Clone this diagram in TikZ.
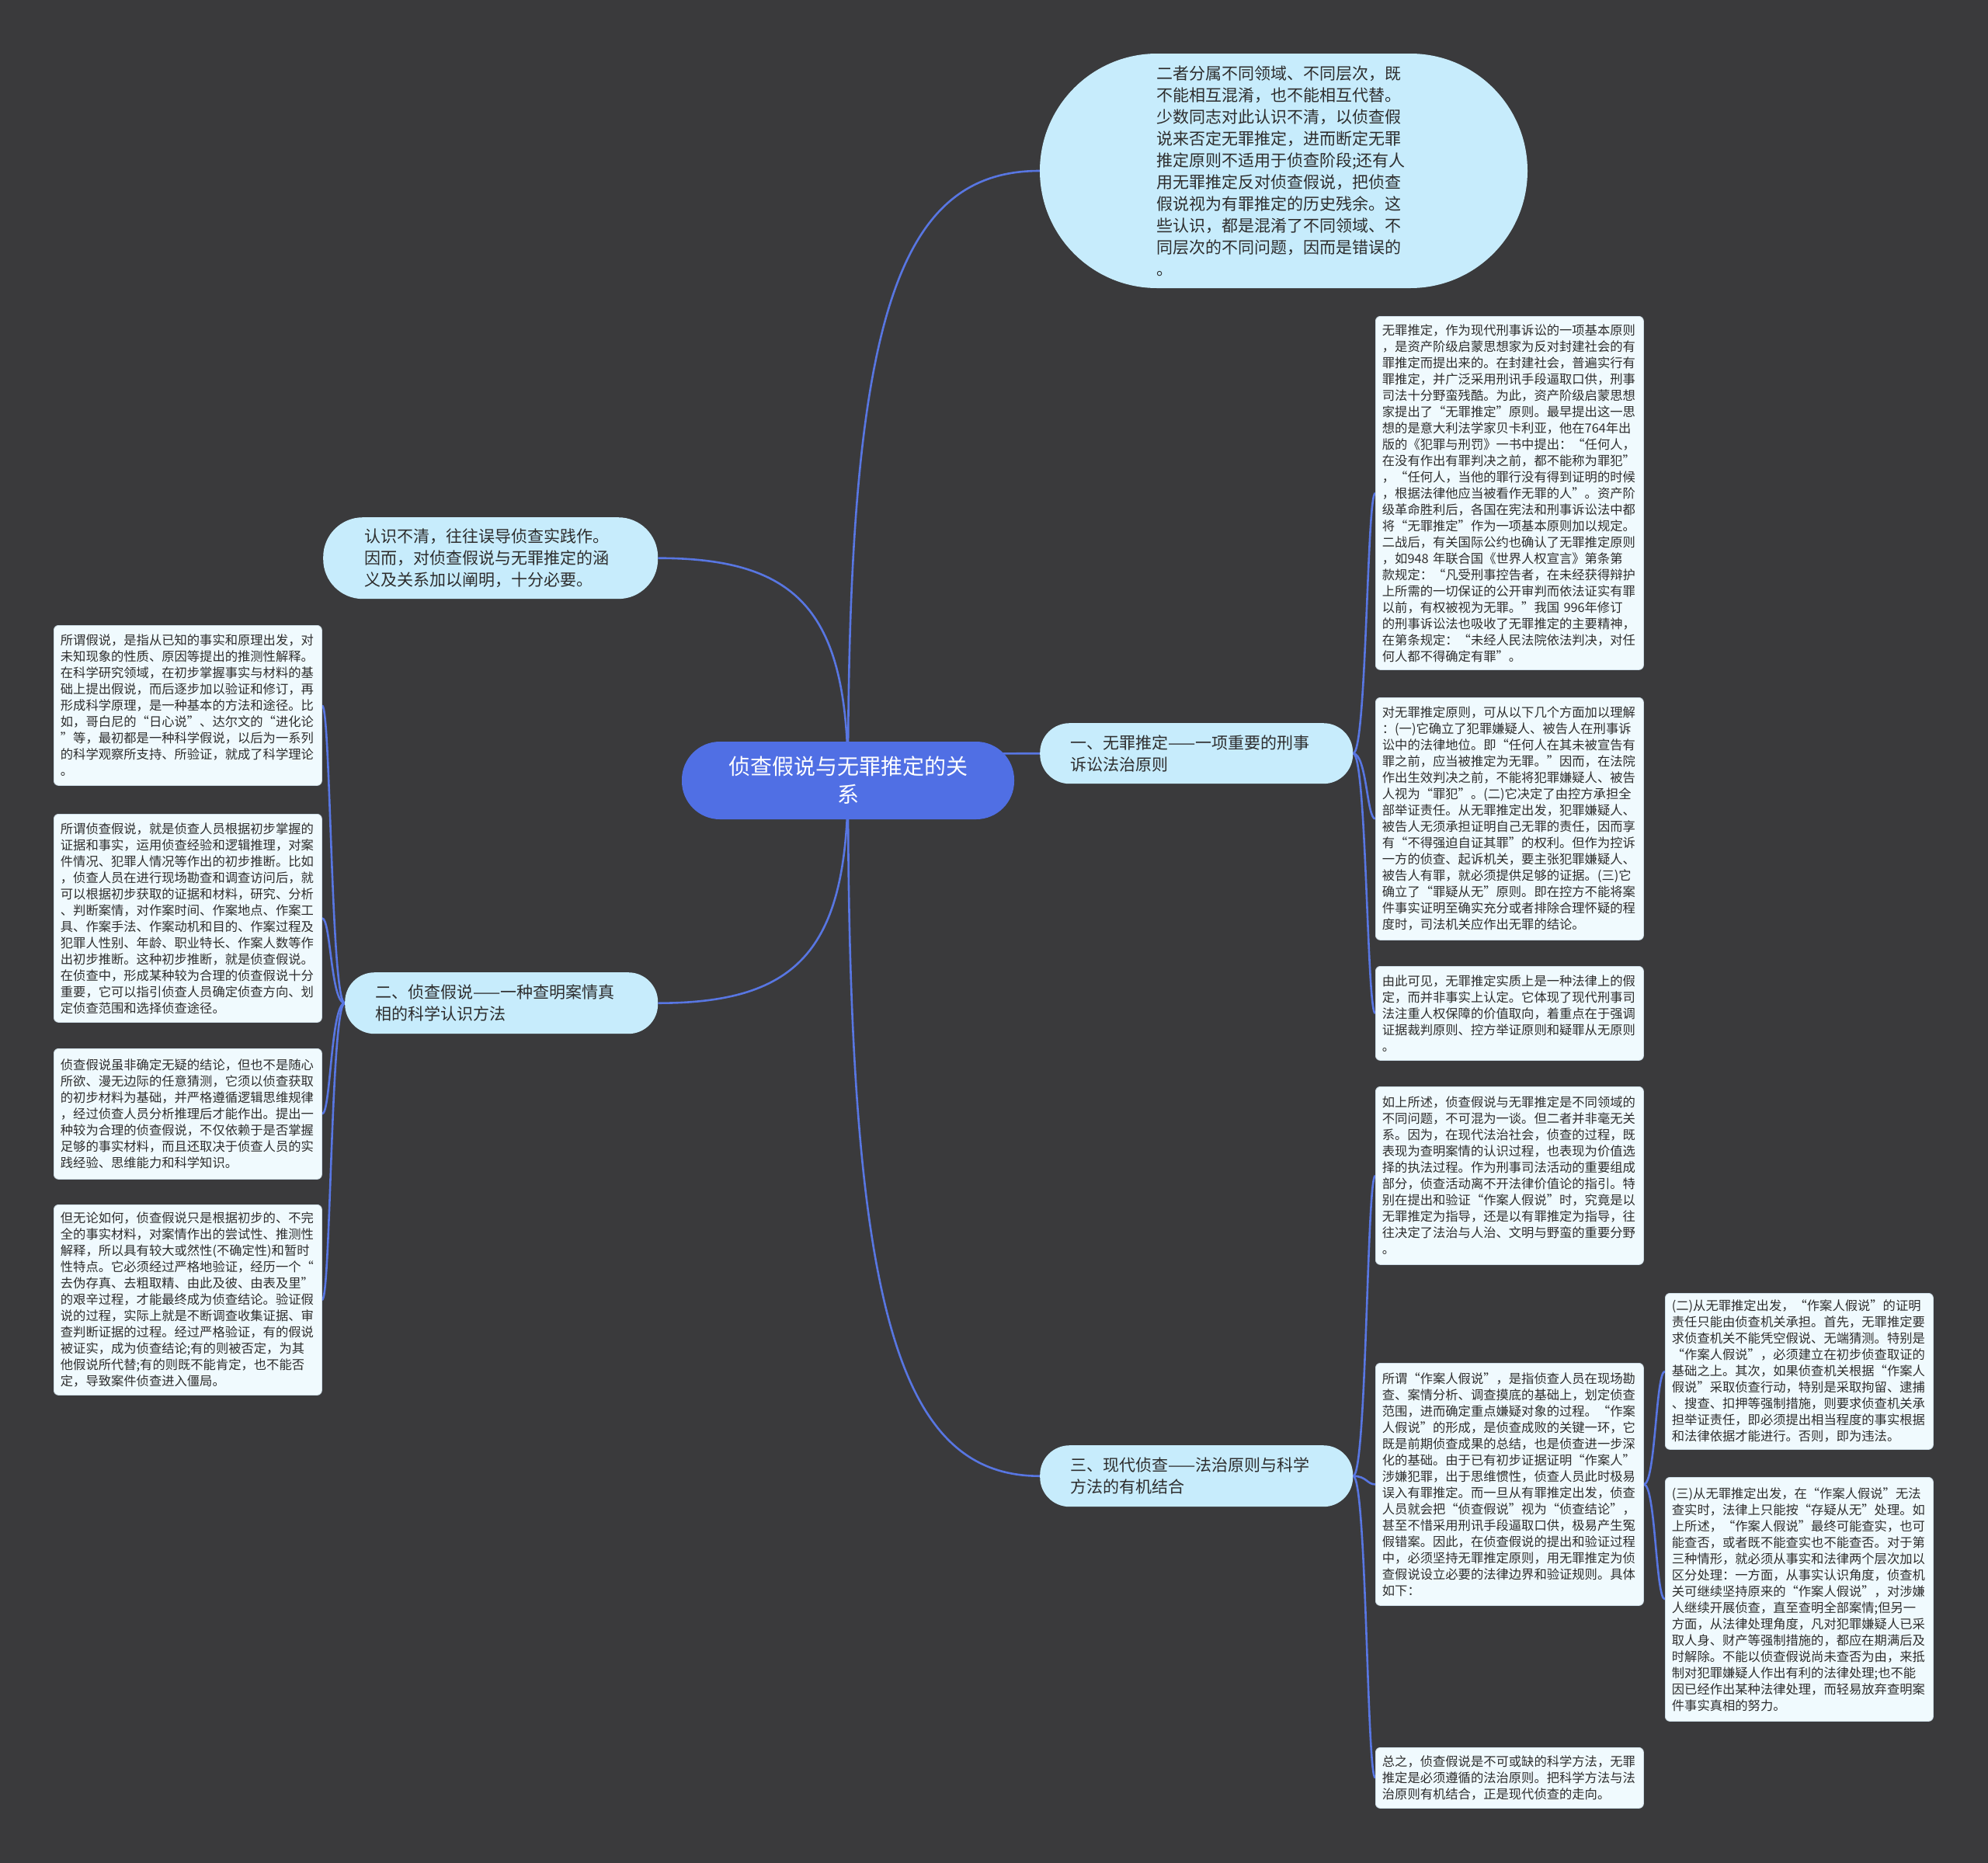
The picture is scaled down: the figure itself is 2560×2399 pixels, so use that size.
\documentclass[tikz,border=0pt]{standalone}
\usepackage{fontspec}
\setmainfont{Noto Sans CJK SC}
\usetikzlibrary{calc,shapes.misc}
\setlength\parindent{0pt}
\definecolor{bgc}{RGB}{58,58,60}
\definecolor{edgec}{RGB}{88,118,226}
\definecolor{centc}{RGB}{80,111,228}
\definecolor{branchc}{RGB}{199,236,252}
\definecolor{leafc}{RGB}{240,250,254}
\definecolor{leafb}{RGB}{205,220,230}
\definecolor{txt}{RGB}{45,45,45}
\pgfdeclarelayer{background}
\pgfsetlayers{background,main}
\tikzset{
  mmedge/.style={draw=edgec,line width=2.6pt},
  leaf/.style={anchor=north west,fill=leafc,draw=leafb,line width=0.8pt,rounded corners=6pt,
    text width=328pt,inner xsep=8.5pt,inner ysep=0pt,align=left,text=txt,
    font=\fontsize{16.3}{21}\selectfont},
  branch/.style={anchor=north west,fill=branchc,text width=325pt,inner ysep=0pt,align=left,text=txt,
    font=\fontsize{21}{28}\selectfont},
}
\newcommand\mmcurve[2]{\draw[mmedge] (#1) .. controls ($(#1)!0.75!(#1 |- #2)$) and ($(#2)!0.75!(#1 |- #2)$) .. (#2);}
\newcommand\mmleaf[3]{\draw[mmedge] (#1) .. controls (#1 -| #3) and (#2 -| #3) .. (#2);}
\begin{document}
\begin{tikzpicture}[x=1pt,y=-1pt]
\begin{pgfonlayer}{background}
\fill[bgc] (0,0) rectangle (2560,2399);
\end{pgfonlayer}
\useasboundingbox (0,0) rectangle (2560,2399);

% center
\node[fill=centc,rounded corners=49pt,minimum width=428pt,minimum height=100pt,inner sep=0pt,
  align=center,text=white,font=\fontsize{28}{36}\selectfont] (c) at (1092,1005)
  {侦查假说与无罪推定的关\\系};

% top bubble
\node[rounded rectangle,fill=branchc,minimum width=628pt,minimum height=302pt,inner sep=0pt,
  text width=328pt,align=left,text=txt,font=\fontsize{21}{28}\selectfont] (top) at (1653,220)
  {二者分属不同领域、不同层次，既\\不能相互混淆，也不能相互代替。\\少数同志对此认识不清，以侦查假\\说来否定无罪推定，进而断定无罪\\推定原则不适用于侦查阶段;还有人\\用无罪推定反对侦查假说，把侦查\\假说视为有罪推定的历史残余。这\\些认识，都是混淆了不同领域、不\\同层次的不同问题，因而是错误的\\。};

% branches
\node[branch,rounded corners=51pt,inner xsep=53pt,minimum height=105pt] (b0) at (416,666)
  {认识不清，往往误导侦查实践作。\\因而，对侦查假说与无罪推定的涵\\义及关系加以阐明，十分必要。};
\node[branch,rounded corners=38pt,inner xsep=39pt,minimum height=79pt] (b2) at (444,1252)
  {二、侦查假说——一种查明案情真\\相的科学认识方法};
\node[branch,rounded corners=38pt,inner xsep=39pt,minimum height=78pt] (b1) at (1339,931)
  {一、无罪推定——一项重要的刑事\\诉讼法治原则};
\node[branch,rounded corners=38pt,inner xsep=39pt,minimum height=79pt] (b3) at (1339,1861)
  {三、现代侦查——法治原则与科学\\方法的有机结合};

% right leaves of b1
\node[leaf,minimum height=455pt] (r1) at (1771,407)
  {无罪推定，作为现代刑事诉讼的一项基本原则\\，是资产阶级启蒙思想家为反对封建社会的有\\罪推定而提出来的。在封建社会，普遍实行有\\罪推定，并广泛采用刑讯手段逼取口供，刑事\\司法十分野蛮残酷。为此，资产阶级启蒙思想\\家提出了“无罪推定”原则。最早提出这一思\\想的是意大利法学家贝卡利亚，他在764年出\\版的《犯罪与刑罚》一书中提出：“任何人，\\在没有作出有罪判决之前，都不能称为罪犯”\\，“任何人，当他的罪行没有得到证明的时候\\，根据法律他应当被看作无罪的人”。资产阶\\级革命胜利后，各国在宪法和刑事诉讼法中都\\将“无罪推定”作为一项基本原则加以规定。\\二战后，有关国际公约也确认了无罪推定原则\\，如948 年联合国《世界人权宣言》第条第\\款规定：“凡受刑事控告者，在未经获得辩护\\上所需的一切保证的公开审判而依法证实有罪\\以前，有权被视为无罪。”我国 996年修订\\的刑事诉讼法也吸收了无罪推定的主要精神，\\在第条规定：“未经人民法院依法判决，对任\\何人都不得确定有罪”。};
\node[leaf,minimum height=312pt] (r2) at (1771,898)
  {对无罪推定原则，可从以下几个方面加以理解\\：(一)它确立了犯罪嫌疑人、被告人在刑事诉\\讼中的法律地位。即“任何人在其未被宣告有\\罪之前，应当被推定为无罪。”因而，在法院\\作出生效判决之前，不能将犯罪嫌疑人、被告\\人视为“罪犯”。(二)它决定了由控方承担全\\部举证责任。从无罪推定出发，犯罪嫌疑人、\\被告人无须承担证明自己无罪的责任，因而享\\有“不得强迫自证其罪”的权利。但作为控诉\\一方的侦查、起诉机关，要主张犯罪嫌疑人、\\被告人有罪，就必须提供足够的证据。(三)它\\确立了“罪疑从无”原则。即在控方不能将案\\件事实证明至确实充分或者排除合理怀疑的程\\度时，司法机关应作出无罪的结论。};
\node[leaf,minimum height=121pt] (r3) at (1771,1244)
  {由此可见，无罪推定实质上是一种法律上的假\\定，而并非事实上认定。它体现了现代刑事司\\法注重人权保障的价值取向，着重点在于强调\\证据裁判原则、控方举证原则和疑罪从无原则\\。};

% right leaves of b3
\node[leaf,minimum height=229pt] (r4) at (1771,1399)
  {如上所述，侦查假说与无罪推定是不同领域的\\不同问题，不可混为一谈。但二者并非毫无关\\系。因为，在现代法治社会，侦查的过程，既\\表现为查明案情的认识过程，也表现为价值选\\择的执法过程。作为刑事司法活动的重要组成\\部分，侦查活动离不开法律价值论的指引。特\\别在提出和验证“作案人假说”时，究竟是以\\无罪推定为指导，还是以有罪推定为指导，往\\往决定了法治与人治、文明与野蛮的重要分野\\。};
\node[leaf,minimum height=312pt] (r5) at (1771,1755)
  {所谓“作案人假说”，是指侦查人员在现场勘\\查、案情分析、调查摸底的基础上，划定侦查\\范围，进而确定重点嫌疑对象的过程。“作案\\人假说”的形成，是侦查成败的关键一环，它\\既是前期侦查成果的总结，也是侦查进一步深\\化的基础。由于已有初步证据证明“作案人”\\涉嫌犯罪，出于思维惯性，侦查人员此时极易\\误入有罪推定。而一旦从有罪推定出发，侦查\\人员就会把“侦查假说”视为“侦查结论”，\\甚至不惜采用刑讯手段逼取口供，极易产生冤\\假错案。因此，在侦查假说的提出和验证过程\\中，必须坚持无罪推定原则，用无罪推定为侦\\查假说设立必要的法律边界和验证规则。具体\\如下：};
\node[leaf,minimum height=78pt] (r6) at (1771,2250)
  {总之，侦查假说是不可或缺的科学方法，无罪\\推定是必须遵循的法治原则。把科学方法与法\\治原则有机结合，正是现代侦查的走向。};

% far right leaves of r5
\node[leaf,minimum height=201pt] (f1) at (2144,1665)
  {(二)从无罪推定出发，“作案人假说”的证明\\责任只能由侦查机关承担。首先，无罪推定要\\求侦查机关不能凭空假说、无端猜测。特别是\\“作案人假说”，必须建立在初步侦查取证的\\基础之上。其次，如果侦查机关根据“作案人\\假说”采取侦查行动，特别是采取拘留、逮捕\\、搜查、扣押等强制措施，则要求侦查机关承\\担举证责任，即必须提出相当程度的事实根据\\和法律依据才能进行。否则，即为违法。};
\node[leaf,minimum height=314pt] (f2) at (2144,1902)
  {(三)从无罪推定出发，在“作案人假说”无法\\查实时，法律上只能按“存疑从无”处理。如\\上所述，“作案人假说”最终可能查实，也可\\能查否，或者既不能查实也不能查否。对于第\\三种情形，就必须从事实和法律两个层次加以\\区分处理：一方面，从事实认识角度，侦查机\\关可继续坚持原来的“作案人假说”，对涉嫌\\人继续开展侦查，直至查明全部案情;但另一\\方面，从法律处理角度，凡对犯罪嫌疑人已采\\取人身、财产等强制措施的，都应在期满后及\\时解除。不能以侦查假说尚未查否为由，来抵\\制对犯罪嫌疑人作出有利的法律处理;也不能\\因已经作出某种法律处理，而轻易放弃查明案\\件事实真相的努力。};

% left leaves of b2
\node[leaf,minimum height=206pt] (l1) at (69,805)
  {所谓假说，是指从已知的事实和原理出发，对\\未知现象的性质、原因等提出的推测性解释。\\在科学研究领域，在初步掌握事实与材料的基\\础上提出假说，而后逐步加以验证和修订，再\\形成科学原理，是一种基本的方法和途径。比\\如，哥白尼的“日心说”、达尔文的“进化论\\”等，最初都是一种科学假说，以后为一系列\\的科学观察所支持、所验证，就成了科学理论\\。};
\node[leaf,minimum height=268pt] (l2) at (69,1048)
  {所谓侦查假说，就是侦查人员根据初步掌握的\\证据和事实，运用侦查经验和逻辑推理，对案\\件情况、犯罪人情况等作出的初步推断。比如\\，侦查人员在进行现场勘查和调查访问后，就\\可以根据初步获取的证据和材料，研究、分析\\、判断案情，对作案时间、作案地点、作案工\\具、作案手法、作案动机和目的、作案过程及\\犯罪人性别、年龄、职业特长、作案人数等作\\出初步推断。这种初步推断，就是侦查假说。\\在侦查中，形成某种较为合理的侦查假说十分\\重要，它可以指引侦查人员确定侦查方向、划\\定侦查范围和选择侦查途径。};
\node[leaf,minimum height=168pt] (l3) at (69,1350)
  {侦查假说虽非确定无疑的结论，但也不是随心\\所欲、漫无边际的任意猜测，它须以侦查获取\\的初步材料为基础，并严格遵循逻辑思维规律\\，经过侦查人员分析推理后才能作出。提出一\\种较为合理的侦查假说，不仅依赖于是否掌握\\足够的事实材料，而且还取决于侦查人员的实\\践经验、思维能力和科学知识。};
\node[leaf,minimum height=245pt] (l4) at (69,1551)
  {但无论如何，侦查假说只是根据初步的、不完\\全的事实材料，对案情作出的尝试性、推测性\\解释，所以具有较大或然性(不确定性)和暂时\\性特点。它必须经过严格地验证，经历一个“\\去伪存真、去粗取精、由此及彼、由表及里”\\的艰辛过程，才能最终成为侦查结论。验证假\\说的过程，实际上就是不断调查收集证据、审\\查判断证据的过程。经过严格验证，有的假说\\被证实，成为侦查结论;有的则被否定，为其\\他假说所代替;有的则既不能肯定，也不能否\\定，导致案件侦查进入僵局。};

% trunk coordinates
\coordinate (tkr) at (1760,0);
\coordinate (tkf) at (2132,0);
\coordinate (tkl) at (426,0);

\begin{pgfonlayer}{background}
\mmcurve{c.center}{top.west}
\mmcurve{c.center}{b0.east}
\mmcurve{c.center}{b1.west}
\mmcurve{c.center}{b2.east}
\mmcurve{c.center}{b3.west}
\mmleaf{b1.east}{r1.west}{tkr}
\mmleaf{b1.east}{r2.west}{tkr}
\mmleaf{b1.east}{r3.west}{tkr}
\mmleaf{b3.east}{r4.west}{tkr}
\mmleaf{b3.east}{r5.west}{tkr}
\mmleaf{b3.east}{r6.west}{tkr}
\mmleaf{r5.east}{f1.west}{tkf}
\mmleaf{r5.east}{f2.west}{tkf}
\mmleaf{b2.west}{l1.east}{tkl}
\mmleaf{b2.west}{l2.east}{tkl}
\mmleaf{b2.west}{l3.east}{tkl}
\mmleaf{b2.west}{l4.east}{tkl}
\end{pgfonlayer}
\end{tikzpicture}
\end{document}
